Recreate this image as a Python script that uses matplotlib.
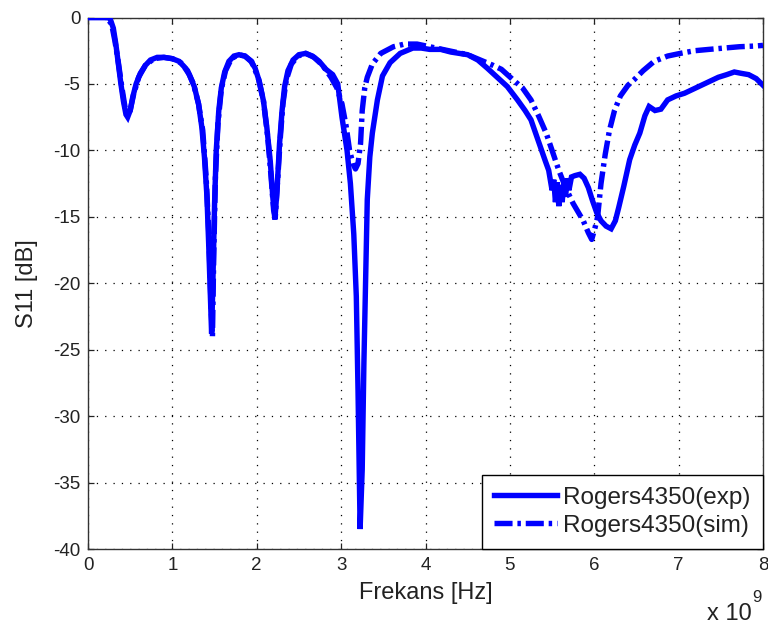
import matplotlib
matplotlib.use("Agg")
import matplotlib.pyplot as plt
import numpy as np

plt.rcParams['font.family'] = ['Liberation Sans', 'DejaVu Sans']
plt.rcParams['lines.scale_dashes'] = False

# Measured return loss (exp), frequency in GHz and S11 in dB
freq_exp = [0.00, 0.20, 0.26, 0.30, 0.33, 0.36, 0.39, 0.42, 0.45, 0.47, 0.50, 0.53,
            0.57, 0.62, 0.68, 0.74, 0.82, 0.90, 1.00, 1.08, 1.14, 1.20, 1.26, 1.31,
            1.35, 1.38, 1.41, 1.43, 1.45, 1.465, 1.48, 1.50, 1.52, 1.55, 1.58, 1.62,
            1.67, 1.73, 1.79, 1.86, 1.93, 1.98, 2.03, 2.08, 2.12, 2.16, 2.19, 2.215,
            2.24, 2.27, 2.30, 2.33, 2.37, 2.43, 2.50, 2.58, 2.66, 2.74, 2.82, 2.90,
            2.96, 3.01, 3.07, 3.11, 3.15, 3.18, 3.20, 3.225, 3.25, 3.27, 3.29, 3.31,
            3.34, 3.37, 3.43, 3.49, 3.58, 3.70, 3.85, 3.95, 4.05, 4.18, 4.30, 4.40,
            4.50, 4.62, 4.73, 4.85, 4.97, 5.09, 5.18, 5.25, 5.31, 5.37, 5.42, 5.46,
            5.50, 5.52, 5.54, 5.56, 5.58, 5.60, 5.62, 5.64, 5.66, 5.68, 5.70, 5.73,
            5.77, 5.83, 5.88, 5.93,
            5.98, 6.03, 6.08, 6.14, 6.20, 6.25, 6.29, 6.35, 6.42, 6.48, 6.54, 6.60,
            6.65, 6.72, 6.79, 6.87, 6.97, 7.07, 7.17, 7.27, 7.37, 7.47, 7.57, 7.66,
            7.74, 7.83, 7.92, 8.00]
s11_exp = [0.0, 0.0, -0.05, -0.8, -2.0, -3.5, -5.0, -6.3, -7.3, -7.5, -7.0, -6.0,
           -5.0, -4.2, -3.6, -3.2, -3.0, -3.0, -3.1, -3.3, -3.7, -4.3, -5.2, -6.5,
           -8.3, -10.5, -13.5, -17.0, -21.0, -23.8, -20.0, -14.0, -10.0, -7.0, -5.3, -4.1,
           -3.3, -2.9, -2.8, -2.9, -3.3, -3.8, -4.8, -6.3, -8.3, -10.8, -13.5, -15.2,
           -13.0, -9.5, -7.0, -5.2, -4.0, -3.2, -2.8, -2.7, -2.9, -3.3, -3.9, -4.3,
           -5.0, -7.5, -10.0, -12.5, -16.3, -21.0, -28.0, -38.5, -34.0, -26.0, -20.0, -13.7,
           -10.5, -8.7, -6.2, -4.4, -3.4, -2.7, -2.3, -2.3, -2.4, -2.4, -2.6, -2.7,
           -2.8, -3.2, -3.8, -4.5, -5.2, -6.2, -7.0, -7.7, -8.8, -9.9, -10.8, -11.5,
           -13.0, -12.2, -13.9, -12.4, -14.2, -12.6, -13.9, -12.3, -13.5, -12.1, -13.0, -12.0,
           -11.9, -11.8, -12.1, -12.8,
           -13.8, -14.7, -15.3, -15.7, -15.9, -15.3, -14.3, -12.7, -10.7, -9.6, -8.7, -7.4,
           -6.7, -7.0, -6.9, -6.2, -5.9, -5.7, -5.4, -5.1, -4.8, -4.5, -4.3, -4.1,
           -4.2, -4.3, -4.6, -5.1]

# Simulated return loss (sim)
freq_sim = [0.00, 0.22, 0.28, 0.32, 0.36, 0.40, 0.44, 0.47, 0.50, 0.54, 0.60, 0.68,
            0.78, 0.90, 1.00, 1.10, 1.18, 1.25, 1.31, 1.36, 1.40, 1.43, 1.46, 1.475,
            1.49, 1.51, 1.54, 1.58, 1.63, 1.70, 1.78, 1.86, 1.94, 2.02, 2.08, 2.13,
            2.17, 2.20, 2.22, 2.25, 2.28, 2.31, 2.35, 2.41, 2.49, 2.58, 2.68, 2.78,
            2.88, 2.95, 3.01, 3.06, 3.10, 3.14, 3.17, 3.20, 3.23, 3.25, 3.28, 3.31,
            3.37, 3.47, 3.62, 3.75, 3.90, 4.05, 4.20, 4.35, 4.50, 4.65, 4.80, 4.90,
            5.04, 5.15, 5.25, 5.34, 5.43, 5.50, 5.58, 5.66, 5.75, 5.87, 5.93, 5.97,
            6.01, 6.04, 6.08, 6.13, 6.18, 6.24, 6.31, 6.40, 6.47, 6.58, 6.71, 6.87,
            7.02, 7.19, 7.36, 7.54, 7.72, 7.90, 8.00]
s11_sim = [0.0, 0.0, -0.5, -1.8, -3.4, -5.2, -6.8, -7.4, -7.0, -5.8, -4.5, -3.6,
           -3.1, -3.0, -3.1, -3.4, -4.0, -5.0, -6.5, -8.5, -12.0, -16.0, -22.0, -24.0,
           -18.0, -12.0, -8.0, -5.4, -4.0, -3.1, -2.8, -2.9, -3.3, -4.6, -6.3, -9.0,
           -12.0, -14.5, -15.0, -12.0, -9.0, -6.5, -4.7, -3.5, -2.9, -2.7, -3.0, -3.6,
           -4.5, -5.3, -6.5, -8.2, -10.0, -11.0, -11.4, -11.0, -9.5, -7.0, -5.3, -4.5,
           -3.5, -2.7, -2.2, -2.0, -2.0, -2.2, -2.4, -2.6, -2.8, -3.2, -3.6, -3.9,
           -4.7, -5.3, -6.2, -7.4, -8.7, -10.0, -11.5, -12.8, -14.0, -15.3, -16.2, -16.7,
           -15.8, -15.0, -12.5, -10.3, -8.5, -7.0, -5.9, -5.1, -4.7, -4.0, -3.3, -2.9,
           -2.7, -2.5, -2.4, -2.3, -2.2, -2.15, -2.1]

series_labels = ['Rogers4350(exp)', 'Rogers4350(sim)']
x_ticks = [0, 1, 2, 3, 4, 5, 6, 7, 8]
y_ticks = [0, -5, -10, -15, -20, -25, -30, -35, -40]

blue = '#0000FF'

fig = plt.figure(figsize=(7.68, 6.26), dpi=100)
ax = fig.add_axes([88 / 768, 1 - 549 / 626, 675 / 768, 531.5 / 626])

ax.plot(np.array(freq_exp) * 1e9, s11_exp, color=blue, lw=3.9,
        solid_joinstyle='miter', label=series_labels[0], zorder=3)
ax.plot(np.array(freq_sim) * 1e9, s11_sim, color=blue, lw=3.9,
        dashes=(13, 3.5, 2.5, 3.5), label=series_labels[1], zorder=3)

ax.set_xlim(0, 8e9)
ax.set_ylim(-40, 0)
ax.set_xticks([t * 1e9 for t in x_ticks])
ax.set_xticklabels([str(t) for t in x_ticks])
ax.set_yticks(y_ticks)
ax.set_yticklabels([str(t) for t in y_ticks])

ax.grid(True, color='black', linestyle=(0, (0.9, 5.1)), linewidth=0.9)
ax.tick_params(direction='in', length=4.5, width=0.9, top=True, right=True,
               labelsize=13.5, pad=5.5, colors='#222222')
for s in ax.spines.values():
    s.set_linewidth(1.0)
    s.set_color('#333333')

ax.set_xlabel('Frekans [Hz]', fontsize=17, color='#222222', labelpad=6)
ax.set_ylabel('S11 [dB]', fontsize=17, color='#222222', labelpad=11)

leg = ax.legend(loc='lower right', borderaxespad=0, fontsize=17.5,
                handlelength=2.6, handletextpad=0.25, labelspacing=0.25,
                borderpad=0.5, fancybox=False, framealpha=1)
leg.get_frame().set_edgecolor('black')
leg.get_frame().set_linewidth(1.0)
for t in leg.get_texts():
    t.set_color('#222222')

# Exponent note for the frequency axis
fig.text(707 / 768, 1 - 620 / 626, 'x 10', fontsize=17, color='#222222',
         ha='left', va='baseline')
fig.text(752 / 768, 1 - 602 / 626, '9', fontsize=12, color='#222222',
         ha='left', va='baseline')

fig.savefig('out.png', dpi=100, facecolor='white')
